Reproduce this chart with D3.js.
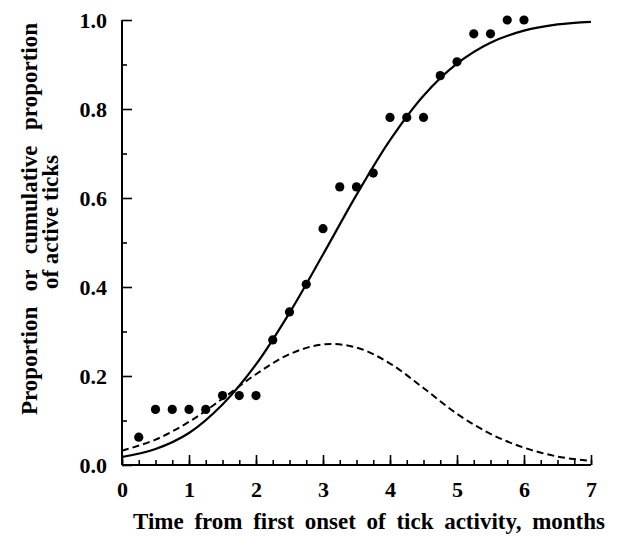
<!DOCTYPE html>
<html>
<head>
<meta charset="utf-8">
<script src="https://cdn.jsdelivr.net/npm/d3@7"></script>
<style>
  html, body { margin: 0; padding: 0; background: #fff; }
  svg { display: block; }
  text { font-family: "Liberation Serif", "Times New Roman", serif; font-weight: bold; fill: #000; }
</style>
</head>
<body>
<svg id="chart" width="620" height="537"></svg>
<script>
// Observed proportion of active ticks, sampled every quarter month
const obsMonths = [0.25, 0.5, 0.75, 1.0, 1.25, 1.5, 1.75, 2.0, 2.25, 2.5, 2.75, 3.0,
                   3.25, 3.5, 3.75, 4.0, 4.25, 4.5, 4.75, 5.0, 5.25, 5.5, 5.75, 6.0];
const obsValues = [0.0625, 0.125, 0.125, 0.125, 0.125, 0.156, 0.156, 0.156, 0.281, 0.344, 0.406, 0.531,
                   0.625, 0.625, 0.656, 0.781, 0.781, 0.781, 0.875, 0.906, 0.969, 0.969, 1.0, 1.0];

// Fitted curves, read every half month
const curveMonths = [0, 0.5, 1.0, 1.5, 2.0, 2.5, 3.0, 3.5, 4.0, 4.5, 5.0, 5.5, 6.0, 6.5, 7.0];
const cumulativeFit = [0.018, 0.036, 0.072, 0.136, 0.226, 0.342, 0.473, 0.607, 0.730, 0.830, 0.902, 0.949, 0.976, 0.990, 0.996];
const proportionFit = [0.032, 0.057, 0.097, 0.149, 0.204, 0.249, 0.271, 0.264, 0.228, 0.173, 0.115, 0.070, 0.039, 0.019, 0.009];

// Axis ticks
const xTicks = [0, 1, 2, 3, 4, 5, 6, 7];
const xMinorTicks = d3.range(0, 7.001, 0.25);
const yTicks = [0, 0.2, 0.4, 0.6, 0.8, 1.0];
const yMinorTicks = [0.1, 0.3, 0.5, 0.7, 0.9];

const xTitle = "Time from first onset of tick activity, months";
const yTitleLines = ["Proportion or cumulative proportion", "of active ticks"];

const svg = d3.select("#chart");
const x = d3.scaleLinear().domain([0, 7]).range([122, 591]);
const y = d3.scaleLinear().domain([0, 1]).range([465, 20]);

// x axis: ticks point up into the plot
const xAxisMinor = d3.axisBottom(x).tickValues(xMinorTicks).tickSize(-5).tickFormat("");
const xAxisMajor = d3.axisBottom(x).tickValues(xTicks).tickSize(-10).tickPadding(16).tickFormat(d3.format("d"));
const gxMinor = svg.append("g").attr("transform", `translate(0,${y(0)})`).call(xAxisMinor);
const gx = svg.append("g").attr("transform", `translate(0,${y(0)})`).call(xAxisMajor);

// y axis: ticks point right into the plot
const yAxisMinor = d3.axisLeft(y).tickValues(yMinorTicks).tickSize(-5).tickFormat("");
const yAxisMajor = d3.axisLeft(y).tickValues(yTicks).tickSize(-10).tickPadding(15).tickFormat(d3.format(".1f"));
const gyMinor = svg.append("g").attr("transform", `translate(${x(0)},0)`).call(yAxisMinor);
const gy = svg.append("g").attr("transform", `translate(${x(0)},0)`).call(yAxisMajor);

[gx, gy, gxMinor, gyMinor].forEach(g => {
  g.select(".domain").remove();
  g.selectAll(".tick line").attr("stroke", "#000").attr("stroke-width", 1.6);
  g.selectAll("text").style("font-size", "22px").attr("font-family", null);
});

// axis lines
svg.append("line").attr("x1", x(0)).attr("x2", x(7)).attr("y1", y(0)).attr("y2", y(0))
  .attr("stroke", "#000").attr("stroke-width", 2);
svg.append("line").attr("x1", x(0)).attr("x2", x(0)).attr("y1", y(0)).attr("y2", y(1))
  .attr("stroke", "#000").attr("stroke-width", 2);

// fitted curves
const line = d3.line().x((d, i) => x(curveMonths[i])).y(d => y(d)).curve(d3.curveCatmullRom.alpha(0.5));
svg.append("path").datum(proportionFit).attr("d", line)
  .attr("fill", "none").attr("stroke", "#000").attr("stroke-width", 2)
  .attr("stroke-dasharray", "7,4");
svg.append("path").datum(cumulativeFit).attr("d", line)
  .attr("fill", "none").attr("stroke", "#000").attr("stroke-width", 2.2);

// observed points
svg.append("g").selectAll("circle").data(obsValues).join("circle")
  .attr("cx", (d, i) => x(obsMonths[i])).attr("cy", d => y(d)).attr("r", 4.6).attr("fill", "#000");

// titles, word spacing stretched to the printed width
function spaced(sel, width) {
  const natural = sel.node().getComputedTextLength();
  const spaces = (sel.text().match(/ /g) || []).length;
  if (spaces) sel.style("word-spacing", ((width - natural) / spaces) + "px");
}
const xt = svg.append("text").attr("x", 369).attr("y", 529).attr("text-anchor", "middle")
  .style("font-size", "23px").text(xTitle);
spaced(xt, 472);

const yt1 = svg.append("text").attr("transform", "translate(37,219) rotate(-90)")
  .attr("text-anchor", "middle").style("font-size", "23px").text(yTitleLines[0]);
spaced(yt1, 392);
const yt2 = svg.append("text").attr("transform", "translate(58,222) rotate(-90)")
  .attr("text-anchor", "middle").style("font-size", "23px").text(yTitleLines[1]);
</script>
</body>
</html>
